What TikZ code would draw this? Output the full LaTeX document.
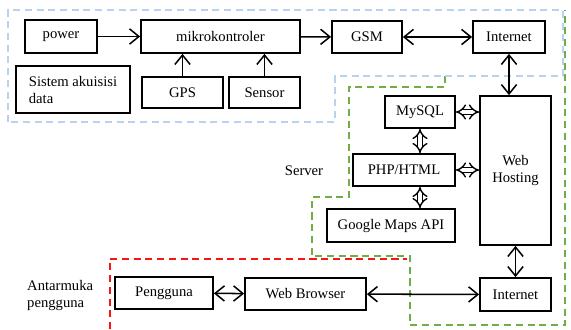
\documentclass[tikz,border=0pt]{standalone}
\usepackage{fontspec}
\setmainfont{Liberation Serif}
\usetikzlibrary{positioning,arrows.meta}
\definecolor{ZoneBlue}{RGB}{185,210,238}
\definecolor{ZoneGreen}{RGB}{112,173,71}
\definecolor{ZoneRed}{RGB}{250,20,20}
\tikzset{
  blok/.style={draw=black,line width=1.5pt,fill=white,inner sep=2pt,font=\fontsize{12.5}{14.5}\selectfont},
  sz/.style 2 args={minimum width=#1*0.03cm,minimum height=#2*0.03cm},
  arr/.style={draw=black,line width=1.3pt,-{Straight Barb[length=8pt,width=13pt,line width=1.3pt]}},
  biarr/.style={draw=black,line width=1.3pt,{Straight Barb[length=8pt,width=13pt,line width=1.3pt]}-{Straight Barb[length=8pt,width=13pt,line width=1.3pt]}},
  darr/.style={draw=black,line width=1.2pt,double,double distance=3.2pt,{Implies[length=8pt,width=15pt]}-{Implies[length=8pt,width=15pt]}},
  zone/.style={line width=1.4pt,dash pattern=on 6pt off 4pt},
}
\tikzset{lbl/.style={font=\fontsize{12.5}{14.5}\selectfont,inner sep=0pt}}

\begin{document}
\begin{tikzpicture}[x=0.03cm,y=-0.03cm]
\useasboundingbox (0,0) rectangle (571,329);
% zones
\draw[zone,ZoneGreen] (445,76) -- (445,87) -- (349,87) -- (349,197) -- (312,197) -- (312,256)
  -- (410,256) -- (410,325) -- (565,325) -- (565,10);
\draw[zone,ZoneRed] (110,329) -- (110,259) -- (407,259);
\draw[zone,ZoneBlue] (8,122) -- (8,10) -- (563,10) -- (563,76) -- (335,76) -- (335,122) -- cycle;
% blocks
\node[blok,sz={72}{33}] (power) at (61,36.5) {power};
\node[blok,sz={159}{33}] (mikro) at (220.5,36.5) {mikrokontroler};
\node[blok,sz={70}{32}] (gsm) at (367,37) {GSM};
\node[blok,sz={72}{32}] (inet1) at (509,37) {Internet};
\node[blok,sz={114}{47},align=left] (akuisisi) at (73,89.5) {Sistem akuisisi\\data};
\node[blok,sz={81}{31}] (gps) at (182.5,92.5) {GPS};
\node[blok,sz={71}{31}] (sensor) at (264.5,92.5) {Sensor};
\node[blok,sz={70}{32}] (mysql) at (420,112) {MySQL};
\node[blok,sz={102}{32}] (php) at (404,170) {PHP/HTML};
\node[blok,sz={128}{33}] (gmaps) at (391,225.5) {Google Maps API};
\node[blok,sz={71}{149},align=center] (host) at (515.5,170.5) {Web\\Hosting};
\node[blok,sz={71}{33}] (inet2) at (515.5,294.5) {Internet};
\node[blok,sz={98}{32}] (pengguna) at (164,293) {Pengguna};
\node[blok,sz={121}{32}] (browser) at (305.5,294) {Web Browser};
% labels
\node[lbl] (server) at (304,171) {Server};
\node[lbl,anchor=west,align=left] (antarmuka) at (27,295) {Antarmuka\\pengguna};
% connectors
\draw[arr] (power) -- (mikro);
\draw[arr] (mikro) -- (gsm);
\draw[biarr] (gsm) -- (inet1);
\draw[biarr] (inet1.south) -- (inet1.south |- host.north);
\draw[arr] (gps.north) -- (gps.north |- mikro.south);
\draw[arr] (sensor.north) -- (sensor.north |- mikro.south);
\draw[darr] (mysql) -- (mysql -| host.west);
\draw[darr] (php) -- (php -| host.west);
\draw[darr] (mysql.south) -- (mysql.south |- php.north);
\draw[darr] (mysql.south |- php.south) -- (mysql.south |- gmaps.north);
\draw[biarr] (host) -- (inet2);
\draw[biarr] (pengguna) -- (browser);
\draw[biarr] (browser) -- (inet2);
\end{tikzpicture}
\end{document}
